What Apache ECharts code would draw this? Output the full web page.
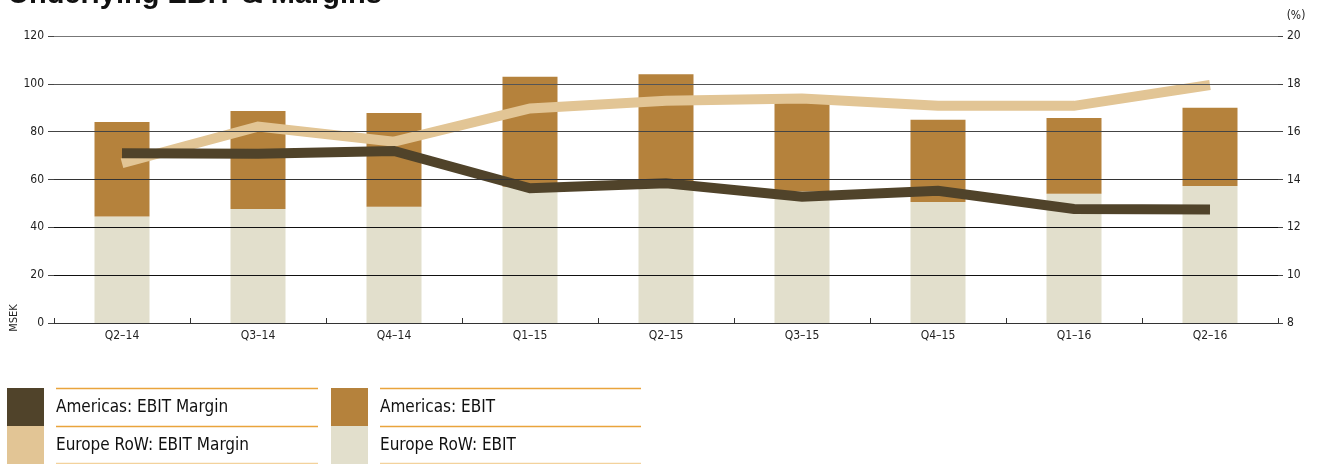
<!DOCTYPE html>
<html>
<head>
<meta charset="utf-8">
<script src="https://cdn.jsdelivr.net/npm/echarts@6/dist/echarts.min.js"></script>
<style>
html,body{margin:0;padding:0;background:#fff;}
#chart{width:1321px;height:464px;}
</style>
</head>
<body>
<div id="chart"></div>
<script>
const categories = ['Q2–14','Q3–14','Q4–14','Q1–15','Q2–15','Q3–15','Q4–15','Q1–16','Q2–16'];
const europeEbit = [44.5, 47.7, 48.6, 57, 58, 55, 50.6, 54, 57.3];
const americasEbit = [39.5, 40.9, 39.2, 46, 46, 37, 34.4, 31.7, 32.7];
const americasMargin = [15.1, 15.08, 15.19, 13.63, 13.84, 13.28, 13.53, 12.77, 12.75];
const europeMargin = [14.68, 16.21, 15.58, 16.97, 17.29, 17.39, 17.08, 17.08, 17.95];
const leftTicks = [0, 120, 20];
const rightTicks = [8, 20, 2];

const C_AM_LINE = '#50432a';
const C_EU_LINE = '#e2c595';
const C_AM_BAR = '#b5823c';
const C_EU_BAR = '#e2dfcc';
const C_ORANGE = '#e9a43c';
const FONT = '"Liberation Sans Narrow","DejaVu Sans Condensed",sans-serif';

const chart = echarts.init(document.getElementById('chart'), null, {renderer: 'canvas'});

const legendGraphics = [];
function legendItem(x, y, color, label) {
  legendGraphics.push({type:'rect', shape:{x:x, y:y, width:37, height:38}, style:{fill:color}, silent:true});
  legendGraphics.push({type:'text', x:x+49, y:y+20, style:{text:label, font:'17px ' + FONT, fill:'#111', verticalAlign:'middle'}});
}
legendItem(7, 388, C_AM_LINE, 'Americas: EBIT Margin');
legendItem(7, 426, C_EU_LINE, 'Europe RoW: EBIT Margin');
legendItem(331, 388, C_AM_BAR, 'Americas: EBIT');
legendItem(331, 426, C_EU_BAR, 'Europe RoW: EBIT');
[[56,318],[380,641]].forEach(function(r){
  [388, 426].forEach(function(yy){
    legendGraphics.push({type:'line', shape:{x1:r[0], y1:yy+0.5, x2:r[1], y2:yy+0.5}, style:{stroke:C_ORANGE, lineWidth:1.5}});
  });
  legendGraphics.push({type:'line', shape:{x1:r[0], y1:463.5, x2:r[1], y2:463.5}, style:{stroke:'#f3d29c', lineWidth:1.5}});
});

chart.setOption({
  animation: false,
  backgroundColor: '#fff',
  grid: {left: 54, right: 43, top: 36, bottom: 141, containLabel: false},
  xAxis: {
    type: 'category',
    data: categories,
    boundaryGap: true,
    axisLine: {show: true, lineStyle: {color: '#333', width: 1}},
    axisTick: {show: true, inside: true, length: 5, lineStyle: {color: '#333'}},
    axisLabel: {color: '#222', fontFamily: FONT, fontSize: 12, margin: 7},
    z: 6
  },
  yAxis: [
    {
      type: 'value', min: leftTicks[0], max: leftTicks[1], interval: leftTicks[2],
      axisLine: {show: false},
      axisTick: {show: true, length: 6, lineStyle: {color: '#444'}},
      axisLabel: {color: '#222', fontFamily: FONT, fontSize: 12, margin: 10},
      splitLine: {show: true, lineStyle: {color: ['#333','#111','#111','#333','#444','#555','#777'], width: 1}},
      z: 6
    },
    {
      type: 'value', min: rightTicks[0], max: rightTicks[1], interval: rightTicks[2],
      position: 'right',
      axisLine: {show: false},
      axisTick: {show: true, length: 5, lineStyle: {color: '#444'}},
      axisLabel: {color: '#222', fontFamily: FONT, fontSize: 12, margin: 9},
      splitLine: {show: false},
      z: 6
    }
  ],
  series: [
    {name: 'Europe RoW: EBIT', type: 'bar', stack: 'ebit', data: europeEbit, barWidth: 55, itemStyle: {color: C_EU_BAR}, z: 1},
    {name: 'Americas: EBIT', type: 'bar', stack: 'ebit', data: americasEbit, barWidth: 55, itemStyle: {color: C_AM_BAR}, z: 1},
    {name: 'Europe RoW: EBIT Margin', type: 'line', yAxisIndex: 1, data: europeMargin, symbol: 'none', lineStyle: {color: C_EU_LINE, width: 10, cap: 'butt', join: 'miter'}, z: 2},
    {name: 'Americas: EBIT Margin', type: 'line', yAxisIndex: 1, data: americasMargin, symbol: 'none', lineStyle: {color: C_AM_LINE, width: 10, cap: 'butt', join: 'miter'}, z: 3}
  ],
  graphic: [
    {type: 'text', x: 8, y: -5, style: {text: 'Underlying EBIT & Margins', font: 'bold 29px "Liberation Sans", sans-serif', fill: '#111', verticalAlign: 'middle'}},
    {type: 'text', x: 1296, y: 16, style: {text: '(%)', font: '12px ' + FONT, fill: '#222', align: 'center', verticalAlign: 'middle'}},
    {type: 'text', x: 14, y: 318, rotation: Math.PI/2, style: {text: 'MSEK', font: '11px ' + FONT, fill: '#222', align: 'center', verticalAlign: 'middle'}}
  ].concat(legendGraphics)
});
</script>
</body>
</html>
